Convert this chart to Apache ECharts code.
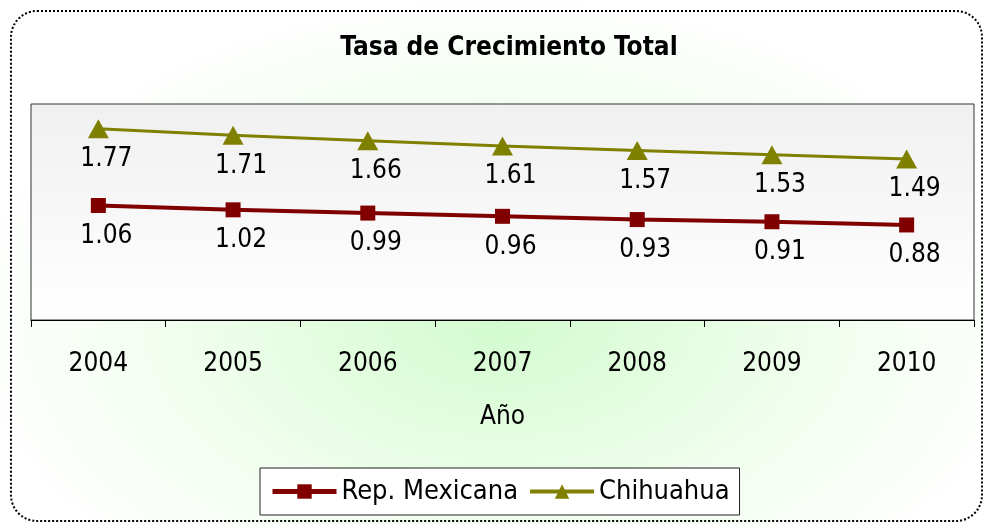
<!DOCTYPE html>
<html>
<head>
<meta charset="utf-8">
<script src="https://cdn.jsdelivr.net/npm/echarts@6/dist/echarts.min.js"></script>
<style>
  html, body { margin: 0; padding: 0; background: #fff; }
  #chart {
    width: 984px; height: 524px;
    background: radial-gradient(ellipse 540px 330px at 500px 320px, #d2fbcf 0%, #e4fde0 35%, #f3fef1 65%, #ffffff 100%);
  }
</style>
</head>
<body>
<div id="chart"></div>
<script>
const years = ["2004", "2005", "2006", "2007", "2008", "2009", "2010"];
const repMexicana = [1.06, 1.02, 0.99, 0.96, 0.93, 0.91, 0.88];
const chihuahua = [1.77, 1.71, 1.66, 1.61, 1.57, 1.53, 1.49];

const font = "'DejaVu Sans Condensed', 'DejaVu Sans', sans-serif";

document.addEventListener("DOMContentLoaded", () => {
    echarts.init(document.querySelector("#chart")).setOption({
        backgroundColor: "transparent",
        textStyle: { fontFamily: font },
        title: {
            text: "Tasa de Crecimiento Total",
            left: 504,
            top: 30,
            textAlign: "center",
            textStyle: { fontFamily: font, fontSize: 26, fontWeight: "bold", color: "#000" },
        },
        graphic: [
            {
                type: "rect",
                shape: { x: 11, y: 11, width: 971, height: 510, r: 26 },
                style: { fill: "none", stroke: "#000", lineWidth: 2, lineDash: [2, 2] },
                silent: true,
            },
        ],
        legend: {
            left: 260,
            top: 468,
            padding: [10, 10],
            itemGap: 10,
            itemWidth: 64,
            itemHeight: 18,
            backgroundColor: "#fff",
            borderColor: "#222",
            borderWidth: 1,
            textStyle: { fontFamily: font, fontSize: 27, color: "#000" },
            data: [
                { name: "Rep. Mexicana", lineStyle: { width: 5 } },
                { name: "Chihuahua", lineStyle: { width: 4 } },
            ],
        },
        grid: {
            left: 31,
            right: 10,
            top: 104,
            bottom: 204,
            show: true,
            borderColor: "#333",
            borderWidth: 1,
            backgroundColor: {
                type: "linear", x: 0, y: 0, x2: 0, y2: 1,
                colorStops: [
                    { offset: 0, color: "#f0f0f0" },
                    { offset: 1, color: "#ffffff" },
                ],
            },
        },
        xAxis: {
            type: "category",
            data: years,
            boundaryGap: true,
            name: "Año",
            nameLocation: "middle",
            nameGap: 84,
            nameTextStyle: { fontFamily: font, fontSize: 26, color: "#000" },
            axisLine: { show: true, lineStyle: { color: "#000", width: 1 } },
            axisTick: { show: true, length: 7, lineStyle: { color: "#000" } },
            axisLabel: { fontFamily: font, fontSize: 26, color: "#000", margin: 31 },
        },
        yAxis: {
            type: "value",
            min: 0,
            max: 2,
            show: false,
            splitLine: { show: false },
        },
        series: [
            {
                name: "Rep. Mexicana",
                type: "line",
                data: repMexicana,
                color: "#800000",
                symbol: "rect",
                symbolSize: 15,
                lineStyle: { width: 4, color: "#800000" },
                itemStyle: { color: "#800000" },
                label: {
                    show: true, position: "bottom", distance: 10, offset: [8, 0],
                    fontFamily: font, fontSize: 26, color: "#000",
                    formatter: (p) => p.value.toFixed(2),
                },
            },
            {
                name: "Chihuahua",
                type: "line",
                data: chihuahua,
                color: "#808000",
                symbol: "triangle",
                symbolSize: [21, 19],
                lineStyle: { width: 3, color: "#808000" },
                itemStyle: { color: "#808000" },
                label: {
                    show: true, position: "bottom", distance: 8, offset: [8, 0],
                    fontFamily: font, fontSize: 26, color: "#000",
                    formatter: (p) => p.value.toFixed(2),
                },
            },
        ],
    });
});
</script>
</body>
</html>
